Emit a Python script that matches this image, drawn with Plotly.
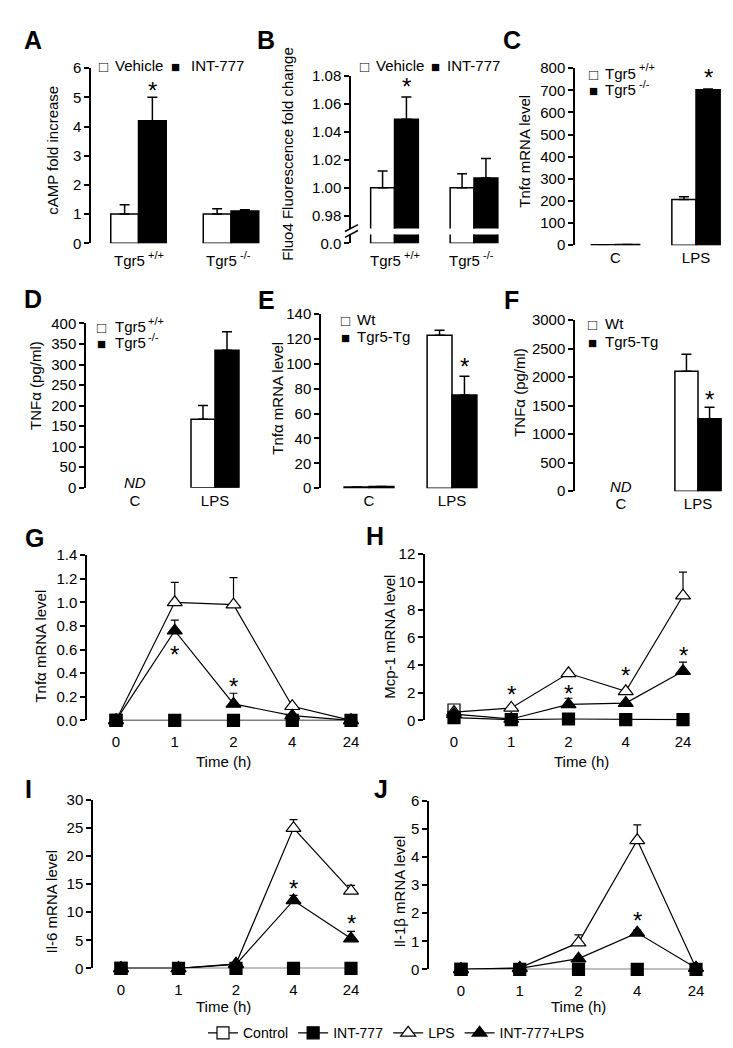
import plotly.graph_objects as go

W, H = 733, 1048
FONT = "Liberation Sans, Arial, DejaVu Sans, sans-serif"

# ---------------- data ----------------
# A: cAMP fold increase
A_groups = ["Tgr5 +/+", "Tgr5 -/-"]
A_series = ["Vehicle", "INT-777"]
A_vehicle = [1.0, 1.0]
A_vehicle_err = [0.32, 0.18]
A_int777 = [4.2, 1.11]
A_int777_err = [0.8, 0.04]
A_star = [5.45, None]

# B: Fluo4 fluorescence fold change
B_groups = ["Tgr5 +/+", "Tgr5 -/-"]
B_series = ["Vehicle", "INT-777"]
B_vehicle = [1.000, 1.000]
B_vehicle_err = [0.012, 0.010]
B_int777 = [1.049, 1.007]
B_int777_err = [0.016, 0.014]
B_star = [1.077, None]

# C-F: conditions
CF_groups = ["C", "LPS"]
CD_series = ["Tgr5 +/+", "Tgr5 -/-"]
EF_series = ["Wt", "Tgr5-Tg"]
C_wt = [2, 207]
C_wt_err = [None, 12]
C_ko = [3, 702]
C_ko_err = [None, 4]
C_star = [None, 785]

D_wt = [None, 167]
D_wt_err = [None, 33]
D_ko = [None, 335]
D_ko_err = [None, 45]
D_star = [None, 414]
D_nd = ["ND", None]

E_wt = [1.0, 123]
E_wt_err = [None, 4]
E_tg = [1.3, 75]
E_tg_err = [None, 15]
E_star = [None, 103]

F_wt = [None, 2100]
F_wt_err = [None, 300]
F_tg = [None, 1270]
F_tg_err = [None, 200]
F_star = [None, 1720]
F_nd = ["ND", None]

# G-J: time courses
times = ["0", "1", "2", "4", "24"]
G_control = [0.0]
G_int777 = [0.0, 0.0, 0.0, 0.0, 0.0]
G_lps = [0.0, 1.0, 0.98, 0.12, 0.0]
G_lps_err = [None, 0.17, 0.23, None, None]
G_int_lps = [0.0, 0.76, 0.14, 0.04, 0.0]
G_int_lps_err = [None, 0.09, 0.09, None, None]
G_star = [None, 0.61, 0.34, None, None]

H_control = [0.75]
H_int777 = [0.2, 0.05, 0.1, 0.05, 0.05]
H_lps = [0.6, 0.9, 3.4, 2.1, 9.0]
H_lps_err = [None, None, None, None, 1.7]
H_int_lps = [0.45, 0.1, 1.15, 1.25, 3.55]
H_int_lps_err = [None, None, 0.45, None, 0.65]
H_star = [None, 2.3, 2.4, 3.7, 5.1]

I_control = [0.0]
I_int777 = [0.0, 0.0, 0.0, 0.0, 0.0]
I_lps = [0.0, 0.0, 0.8, 25.0, 13.8]
I_lps_err = [None, None, None, 1.5, 1.0]
I_int_lps = [0.0, 0.0, 0.7, 12.1, 5.3]
I_int_lps_err = [None, None, None, 0.9, 1.3]
I_star = [None, None, None, 15.3, 9.0]

J_control = [0.0]
J_int777 = [0.0, 0.0, 0.0, 0.0, 0.0]
J_lps = [0.0, 0.05, 0.95, 4.6, 0.05]
J_lps_err = [None, None, 0.28, 0.55, None]
J_int_lps = [0.0, 0.03, 0.38, 1.3, 0.05]
J_int_lps_err = [None, None, None, 0.1, None]
J_star = [None, None, None, 1.96, None]

# ---------------- helpers ----------------
def xd(l, r):
    return [l / W, r / W]


def yd(top, bottom):
    return [1 - bottom / H, 1 - top / H]


def px(x):
    return x / W


def py(y):
    return 1 - y / H


fig = go.Figure()
BW = 0.3


def add_bars(xa, ya, groups, vals, errs, name, filled, err=True, capw=5):
    fig.add_trace(go.Bar(
        x=groups, y=vals, xaxis=xa, yaxis=ya, name=name,
        width=BW, offset=(0 if filled else -BW),
        marker=dict(color="black" if filled else "white", line=dict(color="black", width=1.5)),
        error_y=dict(type="data", symmetric=False, array=errs,
                     arrayminus=[0] * len(vals), color="black", thickness=1.5,
                     width=capw, visible=err),
        showlegend=False))


def add_line(xa, ya, xs, vals, errs, name, symbol, filled, rank, showlegend, size):
    fig.add_trace(go.Scatter(
        x=xs, y=vals, xaxis=xa, yaxis=ya, name=name, mode="lines+markers",
        line=dict(color="black", width=1.2),
        marker=dict(symbol=symbol, size=size, color="black" if filled else "white",
                    line=dict(color="black", width=1.2)),
        error_y=dict(type="data", symmetric=False, array=errs if errs else None,
                     arrayminus=[0] * len(vals), color="black", thickness=1.2, width=4,
                     visible=bool(errs)),
        cliponaxis=False, legendrank=rank, showlegend=showlegend))


def yaxis(anchor, top, bottom, rng, dtick, fmt=None, **kw):
    d = dict(anchor=anchor, domain=yd(top, bottom), range=rng, dtick=dtick, tick0=0,
             showline=True, linecolor="black", linewidth=1.5, ticks="outside", ticklen=5,
             tickwidth=1.5, tickcolor="black", showgrid=False, zeroline=False,
             tickfont=dict(size=15, color="black"), fixedrange=True)
    if fmt:
        d["tickformat"] = fmt
    d.update(kw)
    return d


def xaxis(anchor, left, right, c0, unit, standoff=0, labels=True):
    return dict(anchor=anchor, domain=xd(left, right), type="category",
                range=[(left - c0) / unit, (right - c0) / unit], showline=False, ticks="",
                showgrid=False, zeroline=False, tickfont=dict(size=15, color="black"),
                fixedrange=True, ticklabelstandoff=standoff, showticklabels=labels)


# ---------------- traces ----------------
# A
add_bars("x", "y", A_groups, A_vehicle, A_vehicle_err, A_series[0], False)
add_bars("x", "y", A_groups, A_int777, A_int777_err, A_series[1], True)
# B (broken axis: upper y2, lower y3)
add_bars("x2", "y2", B_groups, B_vehicle, B_vehicle_err, B_series[0], False)
add_bars("x2", "y2", B_groups, B_int777, B_int777_err, B_series[1], True)
add_bars("x2", "y3", B_groups, B_vehicle, B_vehicle_err, B_series[0], False, False)
add_bars("x2", "y3", B_groups, B_int777, B_int777_err, B_series[1], True, False)
# C
add_bars("x3", "y4", CF_groups, C_wt, C_wt_err, CD_series[0], False)
add_bars("x3", "y4", CF_groups, C_ko, C_ko_err, CD_series[1], True)
# D
add_bars("x4", "y5", CF_groups, D_wt, D_wt_err, CD_series[0], False)
add_bars("x4", "y5", CF_groups, D_ko, D_ko_err, CD_series[1], True)
# E
add_bars("x5", "y6", CF_groups, E_wt, E_wt_err, EF_series[0], False)
add_bars("x5", "y6", CF_groups, E_tg, E_tg_err, EF_series[1], True)
# F
add_bars("x6", "y7", CF_groups, F_wt, F_wt_err, EF_series[0], False)
add_bars("x6", "y7", CF_groups, F_tg, F_tg_err, EF_series[1], True)

# G-J
line_panels = [
    ("x7", "y8", G_control, G_int777, G_lps, G_lps_err, G_int_lps, G_int_lps_err, True),
    ("x8", "y9", H_control, H_int777, H_lps, H_lps_err, H_int_lps, H_int_lps_err, False),
    ("x9", "y10", I_control, I_int777, I_lps, I_lps_err, I_int_lps, I_int_lps_err, False),
    ("x10", "y11", J_control, J_int777, J_lps, J_lps_err, J_int_lps, J_int_lps_err, False),
]
for xa, ya, ctl, i7, lps, lpse, il, ile, sl in line_panels:
    add_line(xa, ya, times[:len(ctl)], ctl, None, "Control", "square", False, 1, sl, 12)
    add_line(xa, ya, times, lps, lpse, "LPS", "triangle-up", False, 3, sl, 13)
    add_line(xa, ya, times, il, ile, "INT-777+LPS", "triangle-up", True, 4, sl, 13)
    add_line(xa, ya, times, i7, None, "INT-777", "square", True, 2, sl, 12)

# ---------------- axes ----------------
lay = {}
lay["xaxis"] = xaxis("y", 83, 270, 130.5, 92.5, labels=False)
lay["yaxis"] = yaxis("x", 52, 230, [0, 6], 1)
lay["xaxis2"] = xaxis("y3", 343, 510, 386.5, 79.5, labels=False)
lay["yaxis2"] = yaxis("x2", 60, 215, [0.98 - 13 / 1420, 1.08], 0.02, ".2f", tick0=0.98)
lay["yaxis3"] = yaxis("x2", 221, 230, [0, 0.01], None, tickvals=[0], ticktext=["0.0"])
lay["xaxis3"] = xaxis("y4", 567, 725, 607.5, 80.5, 2)
lay["yaxis4"] = yaxis("x3", 52, 232, [0, 800], 100)
lay["xaxis4"] = xaxis("y5", 78, 240, 127, 80, 2)
lay["yaxis5"] = yaxis("x4", 311.5, 478.5, [0, 400], 50)
lay["xaxis5"] = xaxis("y6", 313, 475, 361, 83, 2)
lay["yaxis6"] = yaxis("x5", 302, 479, [0, 140], 20)
lay["xaxis6"] = xaxis("y7", 567, 725, 613, 77, 2)
lay["yaxis7"] = yaxis("x6", 308, 482, [0, 3000], 500)
lay["xaxis7"] = xaxis("y8", 79, 365, 108, 58.75, 11)
lay["yaxis8"] = yaxis("x7", 547, 715, [0, 1.4], 0.2, ".1f")
lay["xaxis8"] = xaxis("y9", 417, 705, 446, 57.25, 11)
lay["yaxis9"] = yaxis("x8", 546, 715, [0, 12], 2)
lay["xaxis9"] = xaxis("y10", 85, 365, 113, 57.5, 11)
lay["yaxis10"] = yaxis("x9", 796, 967, [0, 30], 5)
lay["xaxis10"] = xaxis("y11", 421, 712, 453, 58.75, 11)
lay["yaxis11"] = yaxis("x10", 797, 968, [0, 6], 1)

lay["legend"] = dict(x=px(195), y=py(1033), xanchor="left", yanchor="middle",
                     orientation="h", bgcolor="rgba(0,0,0,0)",
                     font=dict(size=14, color="black"), traceorder="normal",
                     itemclick=False, itemdoubleclick=False)

# ---------------- annotations ----------------
ann = []


def text(t, x, y, size=15, xanchor="center", **kw):
    d = dict(text=t, x=px(x), y=py(y), xref="paper", yref="paper", showarrow=False,
             xanchor=xanchor, yanchor="middle", font=dict(size=size, color="black"))
    d.update(kw)
    ann.append(d)


def split_sup(name):
    parts = name.split(" ")
    return (parts[0], parts[1]) if len(parts) == 2 and "/" in parts[1] else (name, None)


# category labels with superscript genotype (panels A, B)
for xa, groups, ylab in [("x", A_groups, 248), ("x2", B_groups, 248)]:
    for g in groups:
        base, sup = split_sup(g)
        ann.append(dict(text=base, x=g, y=py(ylab), xref=xa, yref="paper", showarrow=False,
                        xanchor="right", yanchor="middle", xshift=8,
                        font=dict(size=15, color="black")))
        ann.append(dict(text=sup, x=g, y=py(ylab - 6), xref=xa, yref="paper",
                        showarrow=False, xanchor="left", yanchor="middle", xshift=7,
                        font=dict(size=11, color="black")))

# bar-panel keys: (symbol x, text x, superscript x, row y)
bar_keys = [
    (A_series, [(95, 105, None, 49), (167, 181, None, 49)]),
    (B_series, [(356, 366, None, 49), (427, 437, None, 49)]),
    (CD_series, [(585, 595, 629, 57), (585, 595, 629, 74)]),
    (CD_series, [(93, 105, 138, 315), (93, 105, 138, 331)]),
    (EF_series, [(337, 347, None, 307), (337, 347, None, 325)]),
    (EF_series, [(584, 595, None, 312), (584, 595, None, 330)]),
]
for names, rows in bar_keys:
    for sym, name, (xs, xt, xsup, y) in zip(["□", "■"], names, rows):
        text(sym, xs, y + 1, size=15)
        base, sup = split_sup(name)
        text(base, xt, y, xanchor="left")
        if sup:
            text(sup, xsup, y - 6, size=11, xanchor="left")

STAR = 24


def stars(xa, ya, vals, dx):
    for i, v in enumerate(vals):
        if v is not None:
            ann.append(dict(text="*", x=i + dx, y=v, xref=xa, yref=ya, showarrow=False,
                            font=dict(size=STAR, color="black"), yanchor="middle", yshift=-6))


stars("x", "y", A_star, BW / 2)
stars("x2", "y2", B_star, BW / 2)
stars("x3", "y4", C_star, BW / 2)
stars("x4", "y5", D_star, BW / 2)
stars("x5", "y6", E_star, BW / 2)
stars("x6", "y7", F_star, BW / 2)
stars("x7", "y8", G_star, 0)
stars("x8", "y9", H_star, 0)
stars("x9", "y10", I_star, 0)
stars("x10", "y11", J_star, 0)

for xa, ya, nd in [("x4", "y5", D_nd), ("x6", "y7", F_nd)]:
    for i, t in enumerate(nd):
        if t:
            ann.append(dict(text=t, x=i, y=0, xref=xa, yref=ya, showarrow=False,
                            font=dict(size=15, color="black", style="italic"),
                            yanchor="middle", yshift=5))

letters = [("A", 25, 23), ("B", 258, 23), ("C", 504, 23), ("D", 25, 287), ("E", 258, 288),
           ("F", 503, 288), ("G", 26, 530), ("H", 367, 528), ("I", 20, 785), ("J", 373, 785)]
for t, x, y in letters:
    text(t, x, y, size=25, font=dict(size=25, color="black", weight="bold"))

ytitles = [("cAMP fold increase", 45, 136), ("Fluo4 Fluorescence fold change", 280, 140),
           ("Tnfα mRNA level", 517, 137), ("TNFα (pg/ml)", 28, 375),
           ("Tnfα mRNA level", 270, 388), ("TNFα (pg/ml)", 512, 382),
           ("Tnfα mRNA level", 33, 640), ("Mcp-1 mRNA level", 382, 630),
           ("Il-6 mRNA level", 43, 900), ("Il-1β mRNA level", 392, 889)]
for t, x, y in ytitles:
    text(t, x, y, textangle=-90)

for x, y in [(215, 757), (573, 757), (215, 1006), (570, 1006)]:
    text("Time (h)", x, y)

# axis break marks in panel B
shapes = []
for (x0, y0, x1, y1) in [(337, 218, 350, 211), (337, 224, 350, 217)]:
    shapes.append(dict(type="line", xref="paper", yref="paper", x0=px(x0), y0=py(y0),
                       x1=px(x1), y1=py(y1), line=dict(color="black", width=1.5)))

fig.update_layout(
    width=W, height=H, margin=dict(l=0, r=0, t=0, b=0), autosize=False,
    paper_bgcolor="white", plot_bgcolor="rgba(0,0,0,0)", barmode="overlay",
    font=dict(family=FONT, color="black", size=15),
    annotations=ann, shapes=shapes, **lay)

fig.write_html("out.html")
